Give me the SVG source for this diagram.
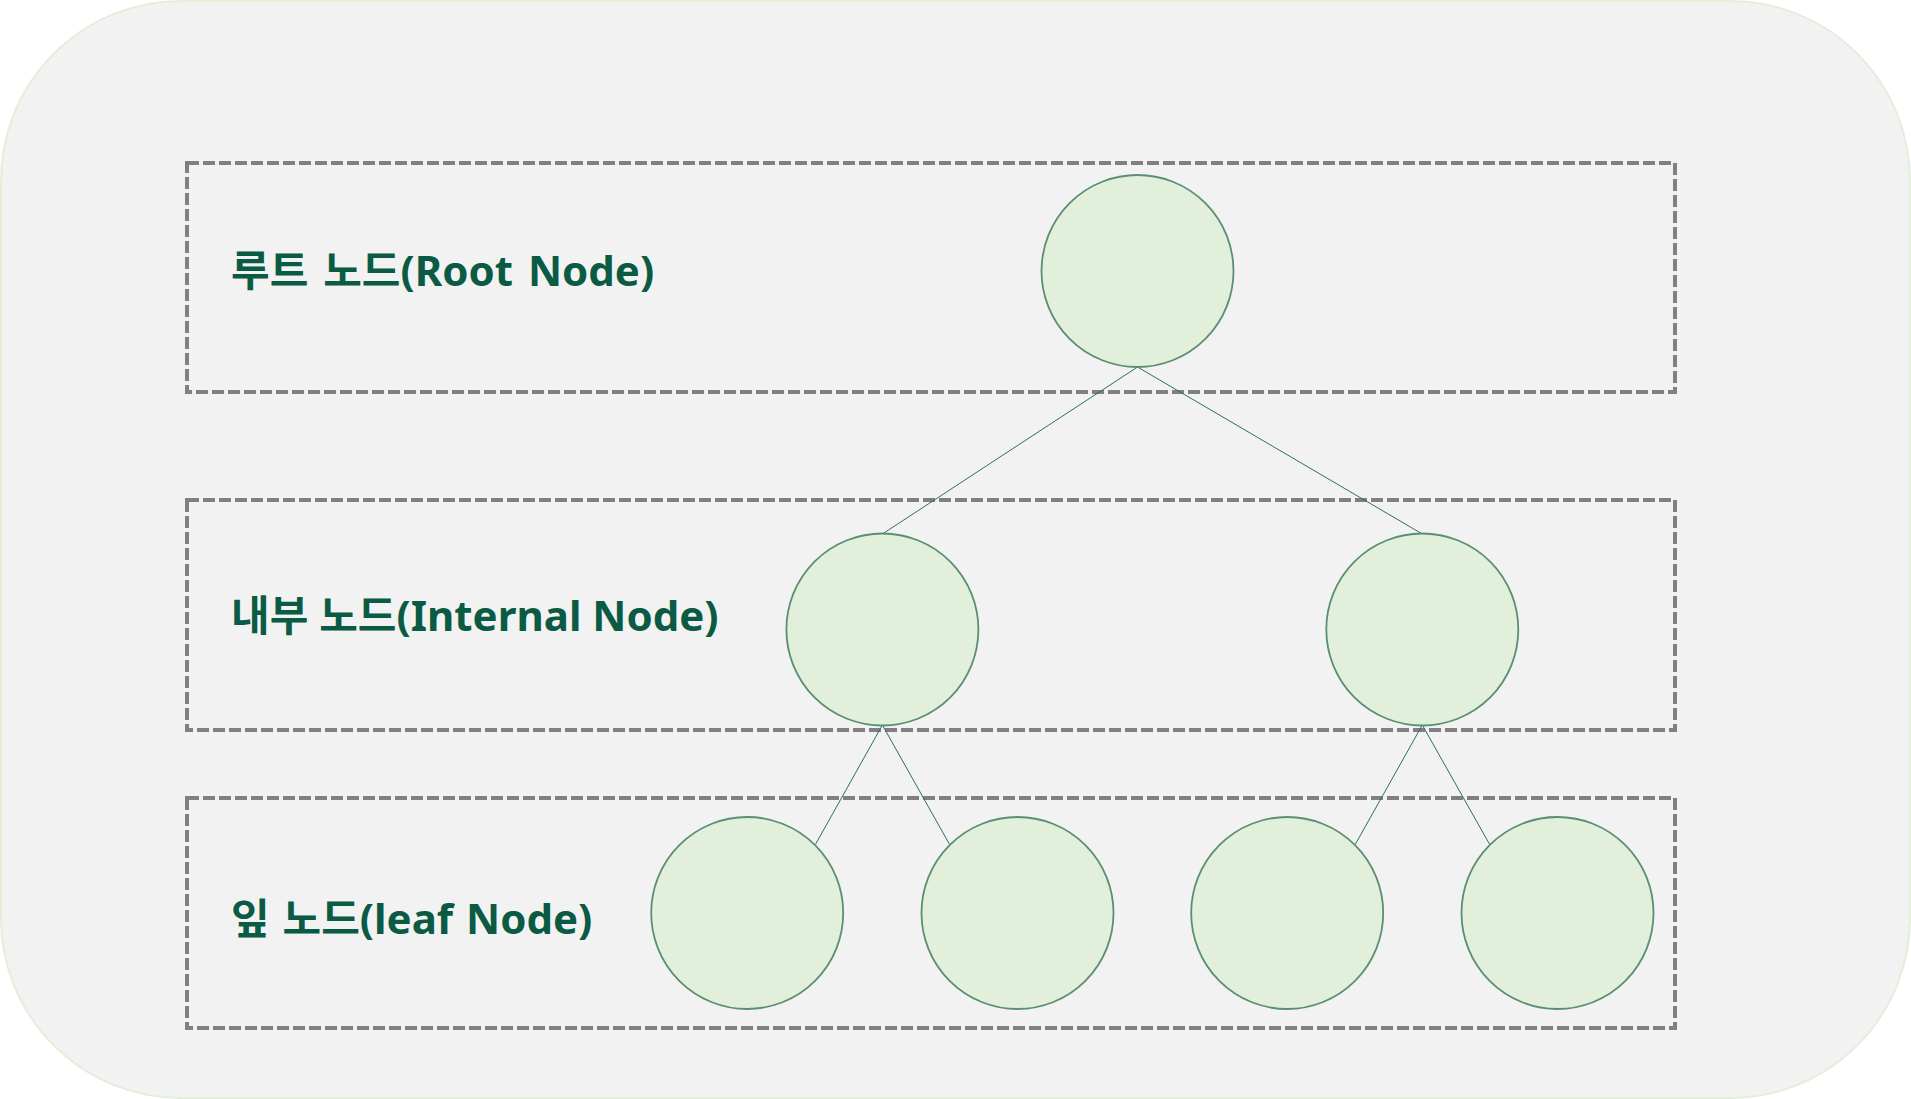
<svg xmlns="http://www.w3.org/2000/svg" width="1911" height="1099" viewBox="0 0 1911 1099">
<style>
.bg{fill:#f2f2f2;stroke:#e2efda;stroke-width:2}
.lvl{fill:none;stroke:#808080;stroke-width:4;stroke-dasharray:12 4}
.node{fill:#e2efda;stroke:#5a8f74;stroke-width:1.8}
.edge{stroke:#2f6f5e;stroke-width:1;fill:none}
.lbl{font-family:"Noto Sans","Noto Sans CJK KR",sans-serif;font-weight:700;font-size:42px;fill:#0a5a44}
</style>
<rect class="bg" x="1" y="1" width="1909" height="1097" rx="180" ry="180"/>
<g id="levels">
<rect id="level-root" class="lvl" x="187" y="163" width="1488" height="229"/>
<rect id="level-internal" class="lvl" x="187" y="500" width="1488" height="230"/>
<rect id="level-leaf" class="lvl" x="187" y="798" width="1488" height="230"/>
</g>
<g id="labels">
<text id="label-root" class="lbl" x="231" y="286" word-spacing="4">루트 노드(Root Node)</text>
<text id="label-internal" class="lbl" x="231" y="631">내부 노드(Internal Node)</text>
<text id="label-leaf" class="lbl" x="231" y="934" word-spacing="2">잎 노드(leaf Node)</text>
</g>
<g id="connectors">
<line class="edge" x1="1137.5" y1="367" x2="882.4" y2="534"/>
<line class="edge" x1="1137.5" y1="367" x2="1422.3" y2="534"/>
<line class="edge" x1="882.4" y1="725" x2="815.7" y2="844"/>
<line class="edge" x1="882.4" y1="725" x2="949.3" y2="844"/>
<line class="edge" x1="1422.3" y1="725" x2="1355.5" y2="844"/>
<line class="edge" x1="1422.3" y1="725" x2="1489.4" y2="844"/>
</g>
<g id="node-root"><circle class="node" cx="1137.5" cy="271" r="96"/></g>
<g id="node-internal-1"><circle class="node" cx="882.4" cy="629.5" r="96"/></g>
<g id="node-internal-2"><circle class="node" cx="1422.3" cy="629.5" r="96"/></g>
<g id="node-leaf-1"><circle class="node" cx="747.2" cy="913" r="96"/></g>
<g id="node-leaf-2"><circle class="node" cx="1017.5" cy="913" r="96"/></g>
<g id="node-leaf-3"><circle class="node" cx="1287.2" cy="913" r="96"/></g>
<g id="node-leaf-4"><circle class="node" cx="1557.5" cy="913" r="96"/></g>
</svg>
